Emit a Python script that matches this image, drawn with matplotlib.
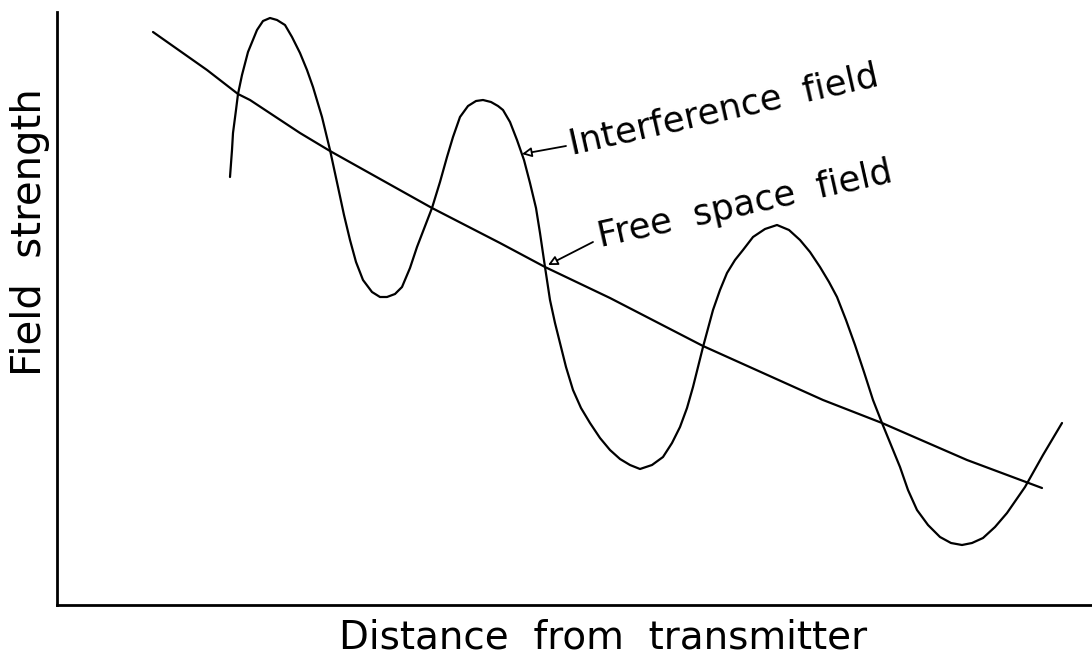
import matplotlib
matplotlib.use("Agg")
import matplotlib.pyplot as plt

# ---- data (arbitrary units: distance, field strength) ----
interference_x = [17.3, 17.5, 17.6, 17.9, 18.1, 18.5, 19.1, 20.0, 20.6, 21.3, 22.0, 22.8,
                  23.5, 24.3, 25.0, 25.6, 26.5, 27.3, 28.1, 28.7, 29.3, 29.9, 30.6, 31.5,
                  32.3, 33.0, 33.8, 34.5, 35.3, 36.0, 37.5, 38.3, 39.0, 39.6, 40.3, 41.1,
                  41.9, 42.6, 43.4, 44.1, 44.6, 45.3, 46.0, 46.7, 47.3, 47.9, 48.3, 48.8,
                  49.3, 49.8, 50.3, 50.9, 51.6, 52.4, 53.3, 54.3, 55.3, 56.3, 57.3, 58.3,
                  59.5, 60.6, 61.5, 62.3, 63.0, 63.6, 64.1, 64.6, 65.6, 66.3, 67.0, 67.8,
                  68.6, 69.6, 70.8, 72.0, 73.2, 74.3, 75.3, 76.3, 77.2, 78.0, 78.9, 79.8,
                  80.7, 81.6, 82.5, 83.4, 84.3, 85.1, 86.0, 87.1, 88.3, 89.4, 90.5, 91.5,
                  92.6, 93.8, 95.0, 95.9, 96.8, 98.6, 100.5]
interference_y = [42.8, 45.5, 47.2, 49.5, 51.1, 53.0, 55.3, 57.5, 58.4, 58.7, 58.5, 58.0,
                  56.8, 55.2, 53.5, 51.8, 48.8, 45.5, 41.8, 39.0, 36.5, 34.3, 32.5, 31.3,
                  30.8, 30.8, 31.1, 31.8, 33.7, 35.8, 39.7, 42.3, 44.8, 46.8, 48.8, 49.9,
                  50.4, 50.5, 50.3, 49.9, 49.5, 48.3, 46.5, 44.5, 42.2, 39.7, 37.2, 33.8,
                  30.5, 28.2, 26.2, 23.8, 21.5, 19.7, 18.2, 16.7, 15.5, 14.6, 14.0, 13.6,
                  14.0, 14.8, 16.2, 17.8, 19.7, 21.8, 23.8, 25.8, 29.5, 31.5, 33.2, 34.5,
                  35.5, 36.8, 37.6, 38.0, 37.5, 36.5, 35.3, 33.8, 32.3, 30.8, 28.5, 26.0,
                  23.3, 20.5, 18.2, 16.0, 13.8, 11.5, 9.5, 8.0, 6.8, 6.2, 6.0, 6.2,
                  6.7, 7.8, 9.2, 10.5, 11.8, 15.0, 18.2]

free_x = [9.6, 15.0, 18.1, 19.3, 24.3, 27.3, 37.5, 44.3, 48.8, 55.3, 64.6, 76.6, 82.5, 91.0, 98.5]
free_y = [57.3, 53.5, 51.1, 50.5, 47.2, 45.4, 39.7, 36.2, 33.8, 30.7, 25.9, 20.5, 18.2, 14.5, 11.7]

xlabel = "Distance  from  transmitter"
ylabel = "Field  strength"
label_interference = "Interference  field"
label_free = "Free  space  field"

# ---- figure ----
W, H = 1092, 661
fig = plt.figure(figsize=(W / 100, H / 100), dpi=100)
ax = fig.add_axes([57 / W, (H - 605) / H, (W - 57) / W, (605 - 12) / H])
ax.set_xlim(0, 103.5)
ax.set_ylim(0, 59.3)

for s in ("top", "right"):
    ax.spines[s].set_visible(False)
for s in ("left", "bottom"):
    ax.spines[s].set_linewidth(2.0)
    ax.spines[s].set_color("black")
ax.set_xticks([])
ax.set_yticks([])

ax.plot(interference_x, interference_y, color="black", lw=1.6,
        solid_joinstyle="round", solid_capstyle="round")
ax.plot(free_x, free_y, color="black", lw=1.6,
        solid_joinstyle="round", solid_capstyle="round")

font = "DejaVu Sans"

# annotations
ax.annotate("", xy=(46.5, 45.1), xytext=(50.9, 45.9),
            arrowprops=dict(arrowstyle="-|>", lw=1.3, color="black",
                            mutation_scale=14, fc="white", shrinkA=0, shrinkB=0))
ax.text(51.5, 45.0, label_interference, rotation=12.7, rotation_mode="anchor",
        ha="left", va="baseline", fontsize=25.5, family=font)

ax.annotate("", xy=(49.1, 34.0), xytext=(53.6, 36.3),
            arrowprops=dict(arrowstyle="-|>", lw=1.3, color="black",
                            mutation_scale=14, fc="white", shrinkA=0, shrinkB=0))
ax.text(54.3, 35.8, label_free, rotation=12.6, rotation_mode="anchor",
        ha="left", va="baseline", fontsize=25.5, family=font)

ax.set_xlabel(xlabel, fontsize=28, family=font, va="center")
ax.xaxis.set_label_coords(0.528, -0.0556)
ax.set_ylabel(ylabel, fontsize=29, family=font, va="center", ha="center")
ax.yaxis.set_label_coords(-0.026, 0.629)

fig.savefig("out.png", dpi=100, facecolor="white")
